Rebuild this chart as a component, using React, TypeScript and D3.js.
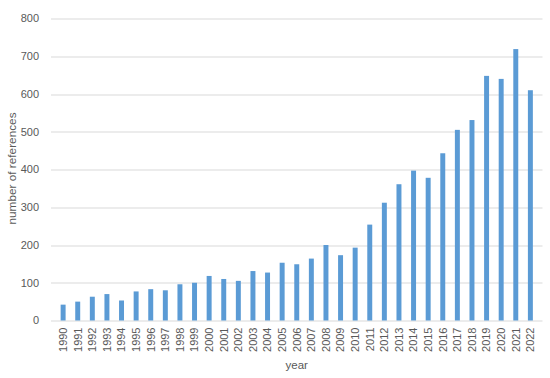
import { useEffect, useRef } from "react";
import * as d3 from "d3";

const years = [
  "1990", "1991", "1992", "1993", "1994", "1995", "1996", "1997", "1998", "1999",
  "2000", "2001", "2002", "2003", "2004", "2005", "2006", "2007", "2008", "2009",
  "2010", "2011", "2012", "2013", "2014", "2015", "2016", "2017", "2018", "2019",
  "2020", "2021", "2022",
];

const references = [
  42, 50, 63, 70, 53, 77, 83, 80, 96, 100,
  118, 110, 105, 131, 127, 153, 149, 164, 200, 173,
  193, 254, 312, 361, 397, 378, 443, 505, 531, 648,
  640, 719, 610,
];

const yTicks = [0, 100, 200, 300, 400, 500, 600, 700, 800];

export default function App() {
  const svgRef = useRef<SVGSVGElement | null>(null);

  useEffect(() => {
    if (!svgRef.current) return;
    const width = 550;
    const height = 378;
    const margin = { top: 18.5, right: 7.5, bottom: 57.5, left: 51 };
    const innerW = width - margin.left - margin.right;
    const innerH = height - margin.top - margin.bottom;

    const svg = d3.select(svgRef.current);
    svg.selectAll("*").remove();
    svg.attr("width", width).attr("height", height);

    const font = "'Liberation Sans', Arial, sans-serif";
    const textColor = "#595959";

    const g = svg
      .append("g")
      .attr("transform", `translate(${margin.left},${margin.top})`);

    const x = d3.scaleBand<string>().domain(years).range([0, innerW]).padding(0.66);
    const y = d3.scaleLinear().domain([0, 800]).range([innerH, 0]);

    // gridlines
    g.append("g")
      .selectAll("line")
      .data(yTicks)
      .join("line")
      .attr("x1", 0)
      .attr("x2", innerW)
      .attr("y1", (d) => Math.round(y(d)) + 0.5)
      .attr("y2", (d) => Math.round(y(d)) + 0.5)
      .attr("stroke", "#d9d9d9")
      .attr("stroke-width", 1);

    // y tick labels
    g.append("g")
      .selectAll("text")
      .data(yTicks)
      .join("text")
      .attr("x", -12)
      .attr("y", (d) => y(d))
      .attr("dy", "0.35em")
      .attr("text-anchor", "end")
      .attr("font-family", font)
      .attr("font-size", 11)
      .attr("fill", textColor)
      .text((d) => d);

    // bars
    g.append("g")
      .selectAll("rect")
      .data(references)
      .join("rect")
      .attr("x", (_, i) => x(years[i])!)
      .attr("width", x.bandwidth())
      .attr("y", (d) => y(d))
      .attr("height", (d) => innerH - y(d))
      .attr("fill", "#5b9bd5");

    // x tick labels
    g.append("g")
      .selectAll("text")
      .data(years)
      .join("text")
      .attr(
        "transform",
        (d) => `translate(${x(d)! + x.bandwidth() / 2},${innerH + 7}) rotate(-90)`
      )
      .attr("dy", "0.35em")
      .attr("text-anchor", "end")
      .attr("font-family", font)
      .attr("font-size", 11)
      .attr("fill", textColor)
      .text((d) => d);

    // axis titles
    svg
      .append("text")
      .attr("x", margin.left + innerW / 2)
      .attr("y", 369)
      .attr("text-anchor", "middle")
      .attr("font-family", font)
      .attr("font-size", 11.5)
      .attr("fill", textColor)
      .text("year");

    svg
      .append("text")
      .attr("transform", `translate(12,${margin.top + innerH / 2 - 1}) rotate(-90)`)
      .attr("dy", "0.35em")
      .attr("text-anchor", "middle")
      .attr("font-family", font)
      .attr("font-size", 11.8)
      .attr("fill", textColor)
      .text("number of references");
  }, []);

  return (
    <svg
      ref={svgRef}
      style={{ position: "absolute", left: 0, top: 0, background: "#fff" }}
    />
  );
}
